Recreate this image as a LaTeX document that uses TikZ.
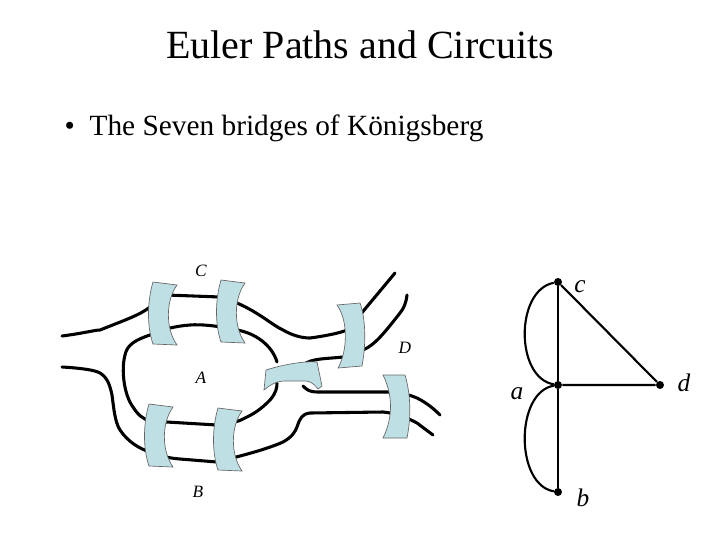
\documentclass[tikz,border=0pt]{standalone}
\usepackage{fontspec}
\setmainfont{Liberation Serif}
\begin{document}
\begin{tikzpicture}[x=0.75pt,y=-0.75pt,
  river/.style={line width=2.3pt,line cap=round,line join=round},
  bridge/.style={fill=bridgeblue,draw=gray!80!black,line width=0.5pt},
  edge/.style={line width=1.6pt},
  vtx/.style={circle,fill=black,inner sep=0pt,minimum size=6pt},
  vlab/.style={font=\itshape\fontsize{19}{20}\selectfont},
  rlab/.style={font=\itshape\fontsize{13}{14}\selectfont}]
\definecolor{bridgeblue}{HTML}{BEDFE3}
\useasboundingbox (0,0) rectangle (720,540);
\node (title) at (360,45) {\fontsize{30}{34}\selectfont Euler Paths and Circuits};
\node[anchor=west] (bul) at (60,128) {\fontsize{22}{26}\selectfont\textbullet\ \ The Seven bridges of Königsberg};
% rivers
\draw[river] (62,336) .. controls (85,333) and (95,330) .. (100,330) .. controls (125,320) and (140,315) .. (150,307) .. controls (158,300) and (162,296) .. (167,295) -- (220,297) .. controls (230,299) and (234,301) .. (237,303) .. controls (260,313) and (272,325) .. (283,330) .. controls (295,337) and (305,338) .. (310,338) .. controls (325,336) and (340,333) .. (347,330) .. controls (352,325) and (356,320) .. (360,315) -- (395,273);
\draw[river] (407,295) .. controls (406,303) and (404,308) .. (400,313) .. controls (385,332) and (375,345) .. (363,350) .. controls (355,354) and (348,356) .. (343,357) .. controls (325,359) and (312,358) .. (303,365);
\draw[river] (277,362) .. controls (272,345) and (255,333) .. (237,330) .. controls (220,326) and (200,324) .. (190,325) .. controls (175,326) and (160,330) .. (150,335) .. controls (135,340) and (127,345) .. (125,355) .. controls (121,370) and (124,395) .. (133,407) .. controls (138,415) and (143,419) .. (150,421) -- (217,425) .. controls (228,424) and (238,422) .. (245,418) .. controls (258,412) and (265,405) .. (270,400) .. controls (276,393) and (277,388) .. (277,383);
\draw[river] (62,367) .. controls (80,368) and (95,370) .. (100,373) .. controls (108,378) and (110,386) .. (112,395) .. controls (114,410) and (115,422) .. (120,430) .. controls (128,442) and (140,449) .. (150,452) .. controls (160,456) and (168,458) .. (180,459) -- (217,462) .. controls (240,456) and (265,450) .. (283,442) .. controls (292,437) and (295,432) .. (297,427) .. controls (300,418) and (302,414) .. (310,413) -- (383,412) .. controls (395,413) and (408,418) .. (417,423) -- (433,435);
\draw[river] (303,386) .. controls (307,390) and (310,392) .. (317,392) -- (393,392) .. controls (402,393) and (410,395) .. (417,398) .. controls (427,403) and (434,409) .. (440,415);
% bridges
\newcommand{\lbr}[2]{\path[bridge,shift={(#1,#2)}] (4,0) -- (28,3) .. controls (17,18) and (16,46) .. (28,63) -- (4,62) .. controls (-2,45) and (-2,20) .. (4,0) -- cycle;}
\newcommand{\rbr}[2]{\path[bridge,shift={(#1,#2)},xscale=-1] (-26,0) ++(4,0) -- ++(24,3) .. controls +(-11,15) and +(-12,-17) .. ++(0,60) -- ++(-24,-1) .. controls +(-6,-17) and +(-6,42) .. ++(0,-62) -- cycle;}
\lbr{149}{282}
\lbr{217}{280}
\lbr{145}{404}
\lbr{214}{408}
\path[bridge] (337,305) -- (360,303) .. controls (366,320) and (366,345) .. (362,366) -- (338,368) .. controls (348,350) and (348,320) .. (337,305) -- cycle;
\path[bridge] (383,375) -- (405,375) .. controls (411,395) and (411,418) .. (407,438) -- (383,438) .. controls (393,418) and (393,395) .. (383,375) -- cycle;
\path[bridge] (264,390) -- (266,370) .. controls (285,364) and (305,361) .. (317,362) -- (322,386) -- (318,389) .. controls (313,382) and (308,381) .. (305,381) -- (285,381) .. controls (276,381) and (270,385) .. (264,390) -- cycle;
\node[rlab] (C) at (201,271) {C};
\node[rlab] (D) at (405,348) {D};
\node[rlab] (A) at (201,378) {A};
\node[rlab] (B) at (198,492) {B};
% graph
\node[vtx] (c) at (558,282) {};
\node[vtx] (a) at (558,385) {};
\node[vtx] (d) at (660,385) {};
\node[vtx] (b) at (558,492) {};
\draw[edge] (c) -- (a) -- (b);
\draw[edge] (a) -- (d) -- (c);
\draw[edge] (c) .. controls (515,290) and (515,378) .. (a);
\draw[edge] (a) .. controls (515,392) and (515,485) .. (b);
\node[vlab] (lc) at (580,287) {c};
\node[vlab] (ld) at (684,383) {d};
\node[vlab] (la) at (517,394) {a};
\node[vlab] (lb) at (583,498) {b};
\end{tikzpicture}
\end{document}
